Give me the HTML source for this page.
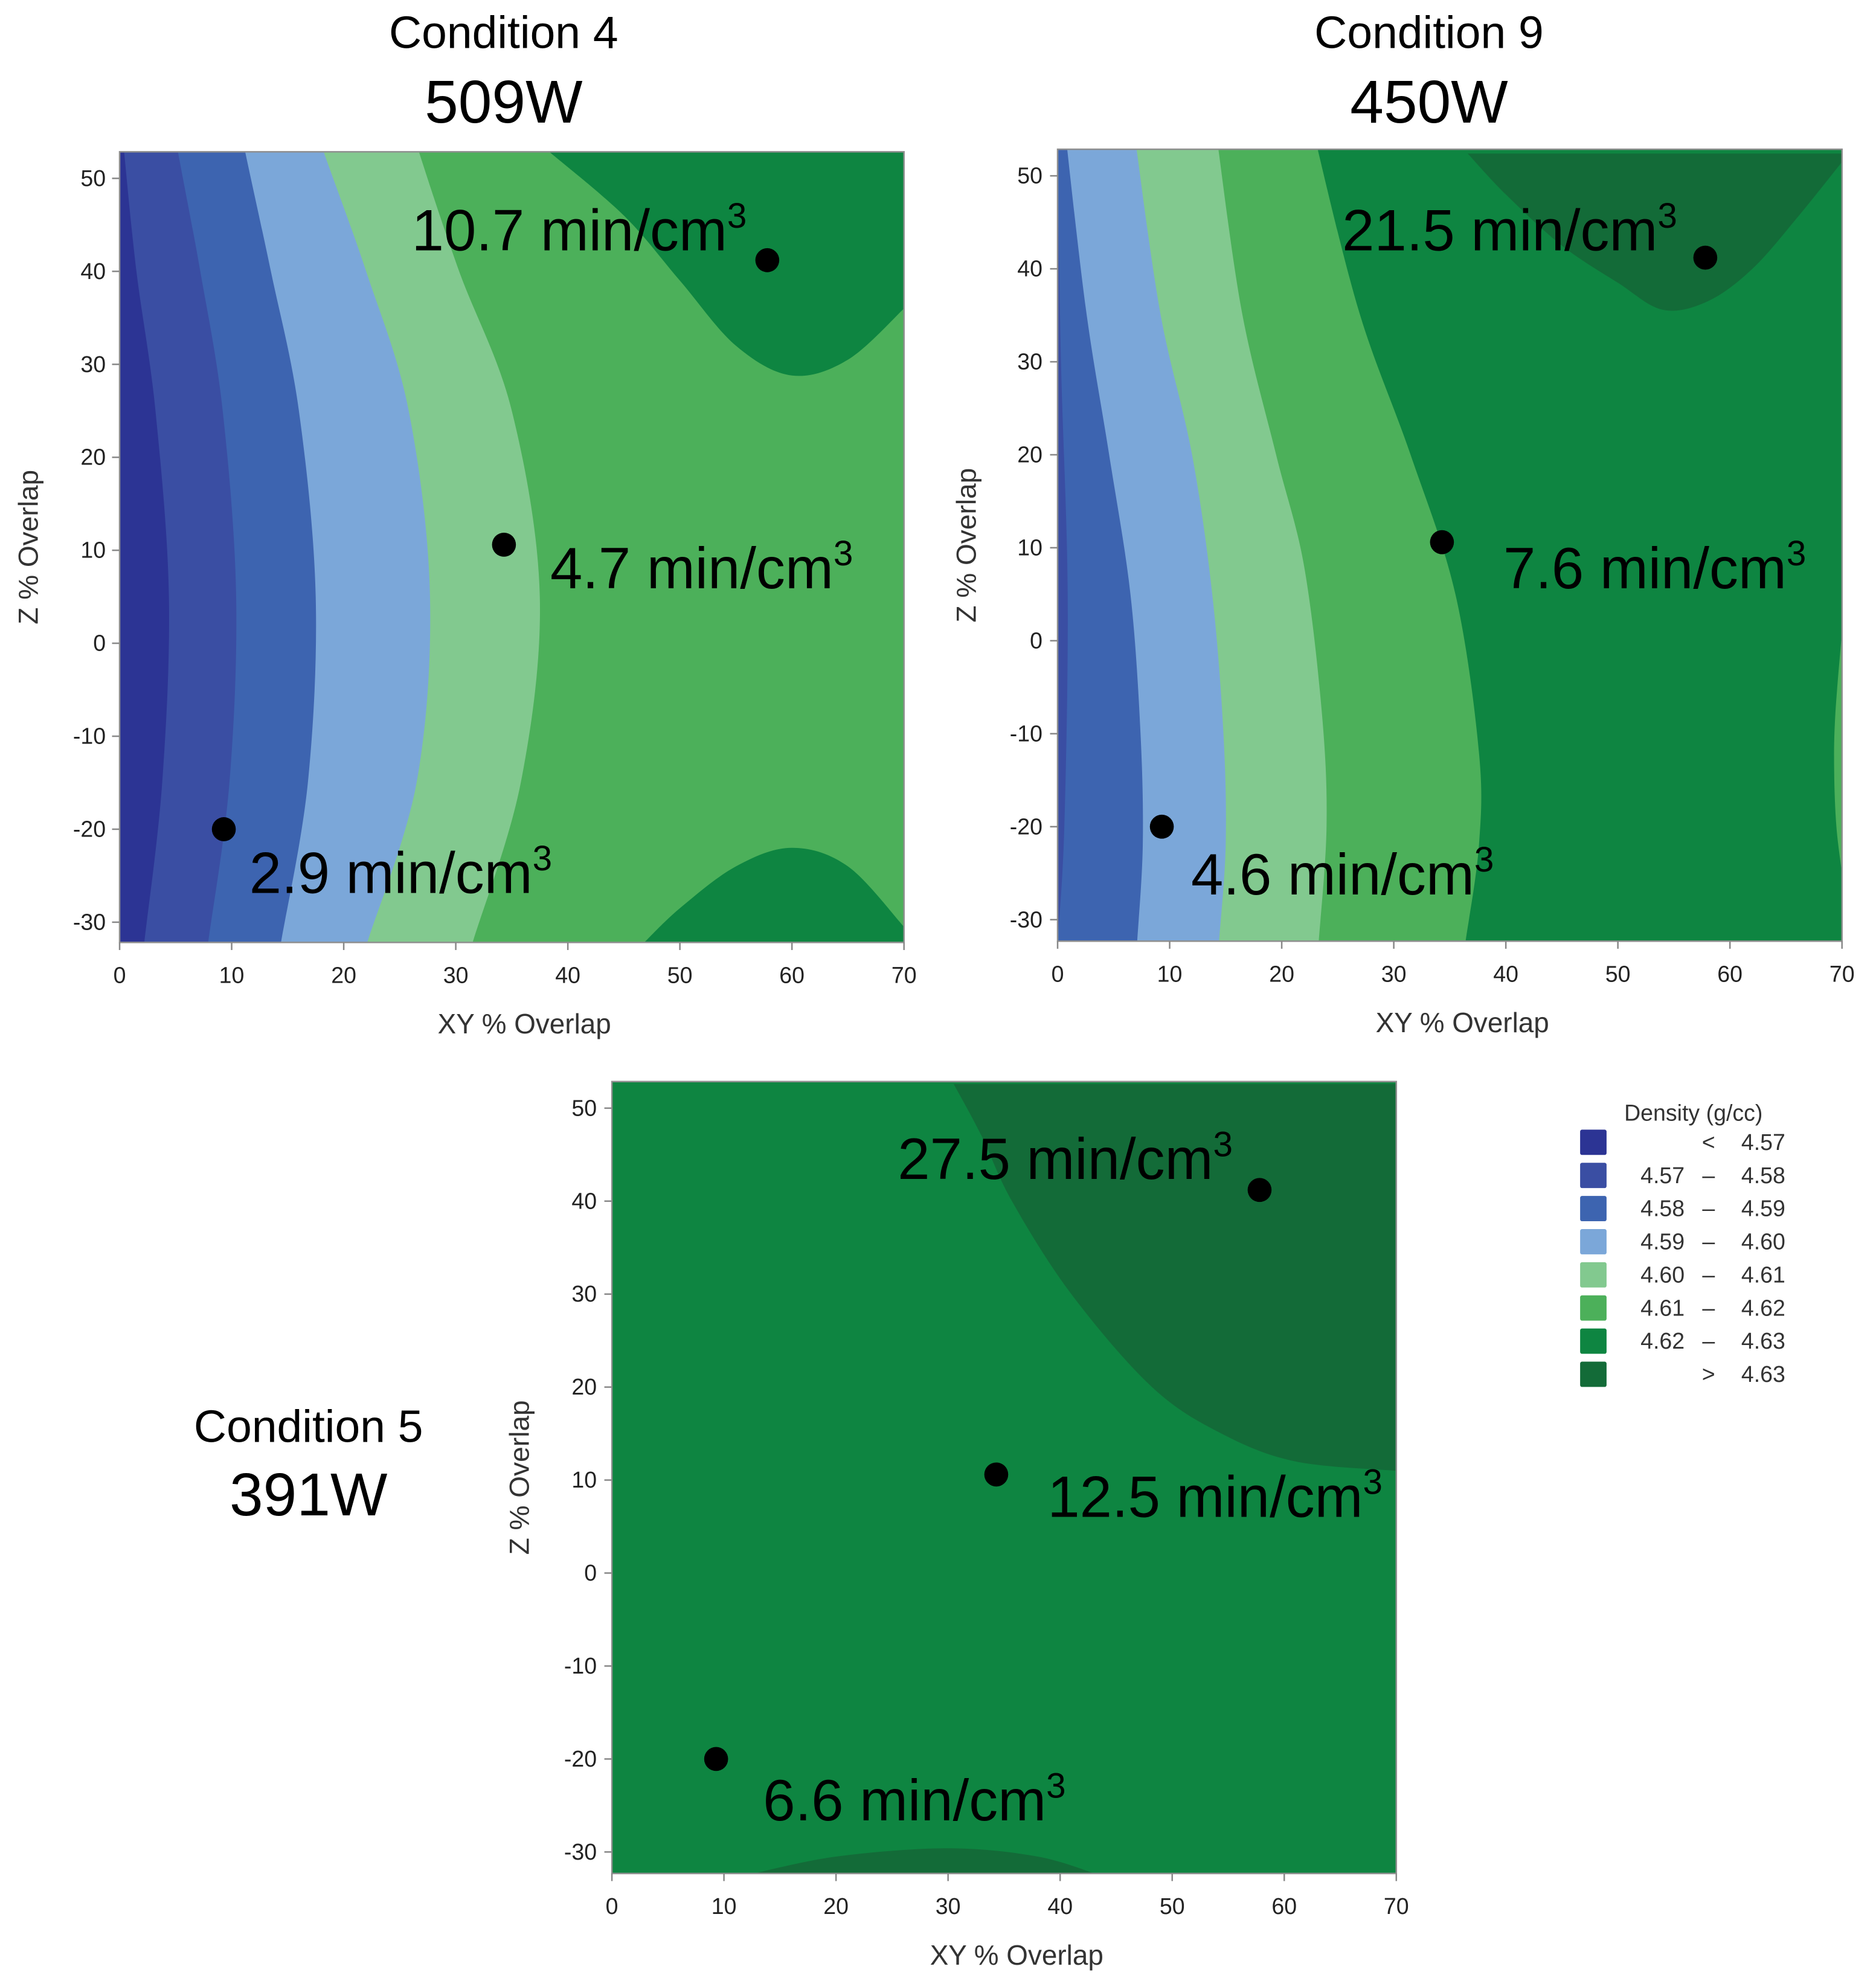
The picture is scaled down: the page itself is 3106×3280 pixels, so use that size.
<!DOCTYPE html>
<html><head><meta charset="utf-8"><title>Density contour plots</title>
<style>
html,body{margin:0;padding:0;background:#fff;}
svg{display:block;}
text{font-family:"Liberation Sans",sans-serif;}
.tick{font-size:18px;fill:#222;}
.axt{font-size:22px;fill:#333;}
.ann{font-size:46px;fill:#000;}
.sup{font-size:28px;}
.ttl{fill:#000;}
.leg{font-size:18px;fill:#333;}
</style></head>
<body>
<svg id="fig" width="3106" height="3280" viewBox="0 0 1490 1566" preserveAspectRatio="none" xmlns="http://www.w3.org/2000/svg">
<g>
<text class="ttl" x="400" y="38" font-size="36" text-anchor="middle">Condition 4</text>
<text class="ttl" x="400" y="97" font-size="48" text-anchor="middle">509W</text></g>
<g>
<text class="ttl" x="1135" y="38" font-size="36" text-anchor="middle">Condition 9</text>
<text class="ttl" x="1135" y="97" font-size="48" text-anchor="middle">450W</text></g>
<g>
<text class="ttl" x="245" y="1140" font-size="36" text-anchor="middle">Condition 5</text>
<text class="ttl" x="245" y="1198" font-size="48" text-anchor="middle">391W</text></g>
<g id="plots"></g>
<g id="legend"></g>
</svg>
<script>
// Band colors and labels
const bandColors = ["#2c3494","#3a4ea3","#3d64b0","#7ba7d9","#82c98f","#4cb05a","#0e8541","#136b38"];
const legendLow = ["", "4.57","4.58","4.59","4.60","4.61","4.62",""];
const legendHigh = ["4.57","4.58","4.59","4.60","4.61","4.62","4.63","4.63"];
const legendSym = ["<","–","–","–","–","–","–",">"];
const xTicks = [0,10,20,30,40,50,60,70];
const yTicks = [50,40,30,20,10,0,-10,-20,-30];

// Plot 1 (509W): boundaries as [xy, z] lists, top to bottom
const p1Bound = [
 [[0.4,52.9],[1.5,40],[3.2,25],[4.4,5],[3.8,-15],[2.2,-32.2]],
 [[5.2,52.9],[7.2,40],[9.2,25],[10.4,5],[9.8,-15],[7.9,-32.2]],
 [[11.2,52.9],[13.5,40],[16,25],[17.5,5],[16.8,-15],[14.4,-32.2]],
 [[18.2,52.9],[22,40],[25.8,25],[27.7,5],[26.5,-15],[22.1,-32.2]],
 [[26.7,52.9],[30.3,40],[35,25],[37.5,5],[35.8,-15],[31.5,-32.2]]
];
const p1BandIdx = [0,1,2,3,4];
const p1Patches = [
 [[38.3,52.9],[45,46],[50,39],[55,32],[60,28.8],[65,30.5],[70,36]],
 [[46.8,-32.2],[50,-28.5],[55,-24],[60,-22],[65,-24],[70,-30.5]]
];
const p1PatchIdx = [6,6];
const p1PatchClose = [[[70,52.9]],[[70,-32.2]]];
// Plot 2 (450W)
const p2Bound = [
 [[0,52.4],[0.3,30],[0.9,5],[0.6,-20],[0,-32.4]],
 [[0.9,52.4],[2.6,35],[4.6,20],[6.5,5],[7.4,-10],[7.6,-22],[7.1,-32.4]],
 [[7.1,52.4],[9.2,35],[12,20],[13.8,5],[14.8,-10],[15,-22],[14.4,-32.4]],
 [[14.4,52.4],[16.5,35],[19.5,20],[22,8],[23.6,-8],[24,-20],[23.3,-32.4]],
 [[23.3,52.4],[27,35],[31.5,20],[35.5,5],[37.6,-12],[37.6,-22],[36.4,-32.4]]
];
const p2BandIdx = [1,2,3,4,5];
const p2Patches = [
 [[36.6,52.4],[40,48],[45,42.5],[50,38.5],[54,35.6],[58,36.5],[62,40],[66,45.5],[70,51.5]],
 [[70,1],[69.4,-8],[69.3,-14],[69.5,-20],[70,-25]]
];
const p2PatchIdx = [7,5];
const p2PatchClose = [[[70,52.4]],[]];
// Plot 3 (391W)
const p3Bound = [];
const p3BandIdx = [];
const p3Patches = [
 [[30.5,52.6],[33,47],[35.7,40],[41,30],[48.2,20],[54.4,15],[61,12],[70,11]],
 [[12,-32.5],[20,-30.5],[30,-29.6],[38,-30.5],[43.5,-32.5]]
];
const p3PatchIdx = [7,7];
const p3PatchClose = [[[70,52.6]],[]];
// Design points and labels
const ptX = [9.3,34.3,57.8];
const ptZ = [-20,10.6,41.2];
const p1Labels = ["2.9","4.7","10.7"];
const p2Labels = ["4.6","7.6","21.5"];
const p3Labels = ["6.6","12.5","27.5"];

const NS="http://www.w3.org/2000/svg";
function mk(tag,attrs,parent){const e=document.createElementNS(NS,tag);for(const k in attrs)e.setAttribute(k,attrs[k]);parent.appendChild(e);return e;}

const layouts = [
 {name:"plot-509w",x0:95,x70:718,y50:141,ym30:729,top:120,bot:745,bg:5,bound:p1Bound,bidx:p1BandIdx,patch:p1Patches,pidx:p1PatchIdx,pclose:p1PatchClose,labels:p1Labels,lab:[[198,706],[437,465],[327,198]],ytl:84,ytitle:30},
 {name:"plot-450w",x0:840,x70:1463,y50:139,ym30:727,top:118,bot:744,bg:6,bound:p2Bound,bidx:p2BandIdx,patch:p2Patches,pidx:p2PatchIdx,pclose:p2PatchClose,labels:p2Labels,lab:[[946,707],[1194,465],[1066,198]],ytl:828,ytitle:775},
 {name:"plot-391w",x0:486,x70:1109,y50:876,ym30:1464,top:855,bot:1481,bg:6,bound:p3Bound,bidx:p3BandIdx,patch:p3Patches,pidx:p3PatchIdx,pclose:p3PatchClose,labels:p3Labels,lab:[[606,1439],[832,1199],[713,932]],ytl:474,ytitle:420}
];

function smoothPath(pts){ // catmull-rom
  let d=`L${pts[0][0]},${pts[0][1]}`;
  for(let i=0;i<pts.length-1;i++){
    const p0=pts[Math.max(i-1,0)],p1=pts[i],p2=pts[i+1],p3=pts[Math.min(i+2,pts.length-1)];
    const c1=[p1[0]+(p2[0]-p0[0])/6,p1[1]+(p2[1]-p0[1])/6];
    const c2=[p2[0]-(p3[0]-p1[0])/6,p2[1]-(p3[1]-p1[1])/6];
    d+=`C${c1[0]},${c1[1]} ${c2[0]},${c2[1]} ${p2[0]},${p2[1]}`;
  }
  return d;
}

const plots=document.getElementById('plots');
layouts.forEach(L=>{
  const sx=v=>L.x0+v*(L.x70-L.x0)/70;
  const sy=z=>L.y50+(50-z)*(L.ym30-L.y50)/80;
  const g=mk('g',{},plots);
  
  
  const cid='clip-'+L.name;
  const cp=mk('clipPath',{id:cid},g);
  mk('rect',{x:L.x0,y:L.top,width:L.x70-L.x0,height:L.bot-L.top},cp);
  const area=mk('g',{'clip-path':`url(#${cid})`},g);
  const bg=mk('rect',{x:L.x0,y:L.top,width:L.x70-L.x0,height:L.bot-L.top,fill:bandColors[L.bg]},area);
  
  
  for(let i=L.bound.length-1;i>=0;i--){
    const pts=L.bound[i].map(p=>[sx(p[0]),sy(p[1])]);
    let d=`M${L.x0-5},${L.top-5}`+smoothPath([[pts[0][0],L.top-5]].concat(pts).concat([[pts[pts.length-1][0],L.bot+5]]))+`L${L.x0-5},${L.bot+5}Z`;
    const band=mk('path',{d:d,fill:bandColors[L.bidx[i]]},area);
    
    
  }
  L.patch.forEach((pp,j)=>{
    const pts=pp.map(p=>[sx(p[0]),sy(p[1])]);
    let d=`M${pts[0][0]},${pts[0][1]}`+smoothPath(pts);
    L.pclose[j].forEach(c=>{d+=`L${sx(c[0])},${sy(c[1])}`;});
    d+='Z';
    const pa=mk('path',{d:d,fill:bandColors[L.pidx[j]]},area);
    
    
  });
  const fr=mk('rect',{x:L.x0,y:L.top,width:L.x70-L.x0,height:L.bot-L.top,fill:'none',stroke:'#8f8f8f','stroke-width':1.2},g);
  
  
  xTicks.forEach(t=>{
    mk('line',{x1:sx(t),x2:sx(t),y1:L.bot,y2:L.bot+6,stroke:'#888','stroke-width':1.2},g);
    const tx=mk('text',{x:sx(t),y:L.bot+32,'text-anchor':'middle',class:'tick'},g);
    tx.textContent=t;
    
    
  });
  yTicks.forEach(t=>{
    mk('line',{x1:L.x0-6,x2:L.x0,y1:sy(t),y2:sy(t),stroke:'#888','stroke-width':1.2},g);
    const tx=mk('text',{x:L.ytl,y:sy(t)+6,'text-anchor':'end',class:'tick'},g);
    tx.textContent=t;
    
    
  });
  const xt=mk('text',{x:(L.x0+L.x70)/2+10,y:L.bot+72,'text-anchor':'middle',class:'axt'},g);
  xt.textContent='XY % Overlap';
  
  
  const yc=(L.top+L.bot)/2;
  const yt=mk('text',{x:L.ytitle,y:yc,'text-anchor':'middle',class:'axt',transform:`rotate(-90 ${L.ytitle} ${yc})`},g);
  yt.textContent='Z % Overlap';
  
  
  ptX.forEach((v,i)=>{
    const c=mk('circle',{cx:sx(v),cy:sy(ptZ[i]),r:9.5,fill:'#000'},g);
    
    
    const t=mk('text',{x:L.lab[i][0],y:L.lab[i][1],class:'ann'},g);
    
    
    t.appendChild(document.createTextNode(L.labels[i]+' min/cm'));
    const s=mk('tspan',{class:'sup',dy:-18},t);
    s.textContent='3';
  });
});

const lg=document.getElementById('legend');
const lt=mk('text',{x:1290,y:886,class:'leg'},lg);
lt.textContent='Density (g/cc)';


bandColors.forEach((c,i)=>{
  const cy=903+i*26.2;
  const row=mk('g',{},lg);
  
  
  mk('rect',{x:1255,y:cy-10,width:21,height:20,fill:c,rx:1.5},row);
  if(legendLow[i]){const a=mk('text',{x:1338,y:cy+6,'text-anchor':'end',class:'leg'},row);a.textContent=legendLow[i];}
  const b=mk('text',{x:1357,y:cy+6,'text-anchor':'middle',class:'leg'},row);b.textContent=legendSym[i];
  const h=mk('text',{x:1418,y:cy+6,'text-anchor':'end',class:'leg'},row);h.textContent=legendHigh[i];
});
</script>
</body></html>
